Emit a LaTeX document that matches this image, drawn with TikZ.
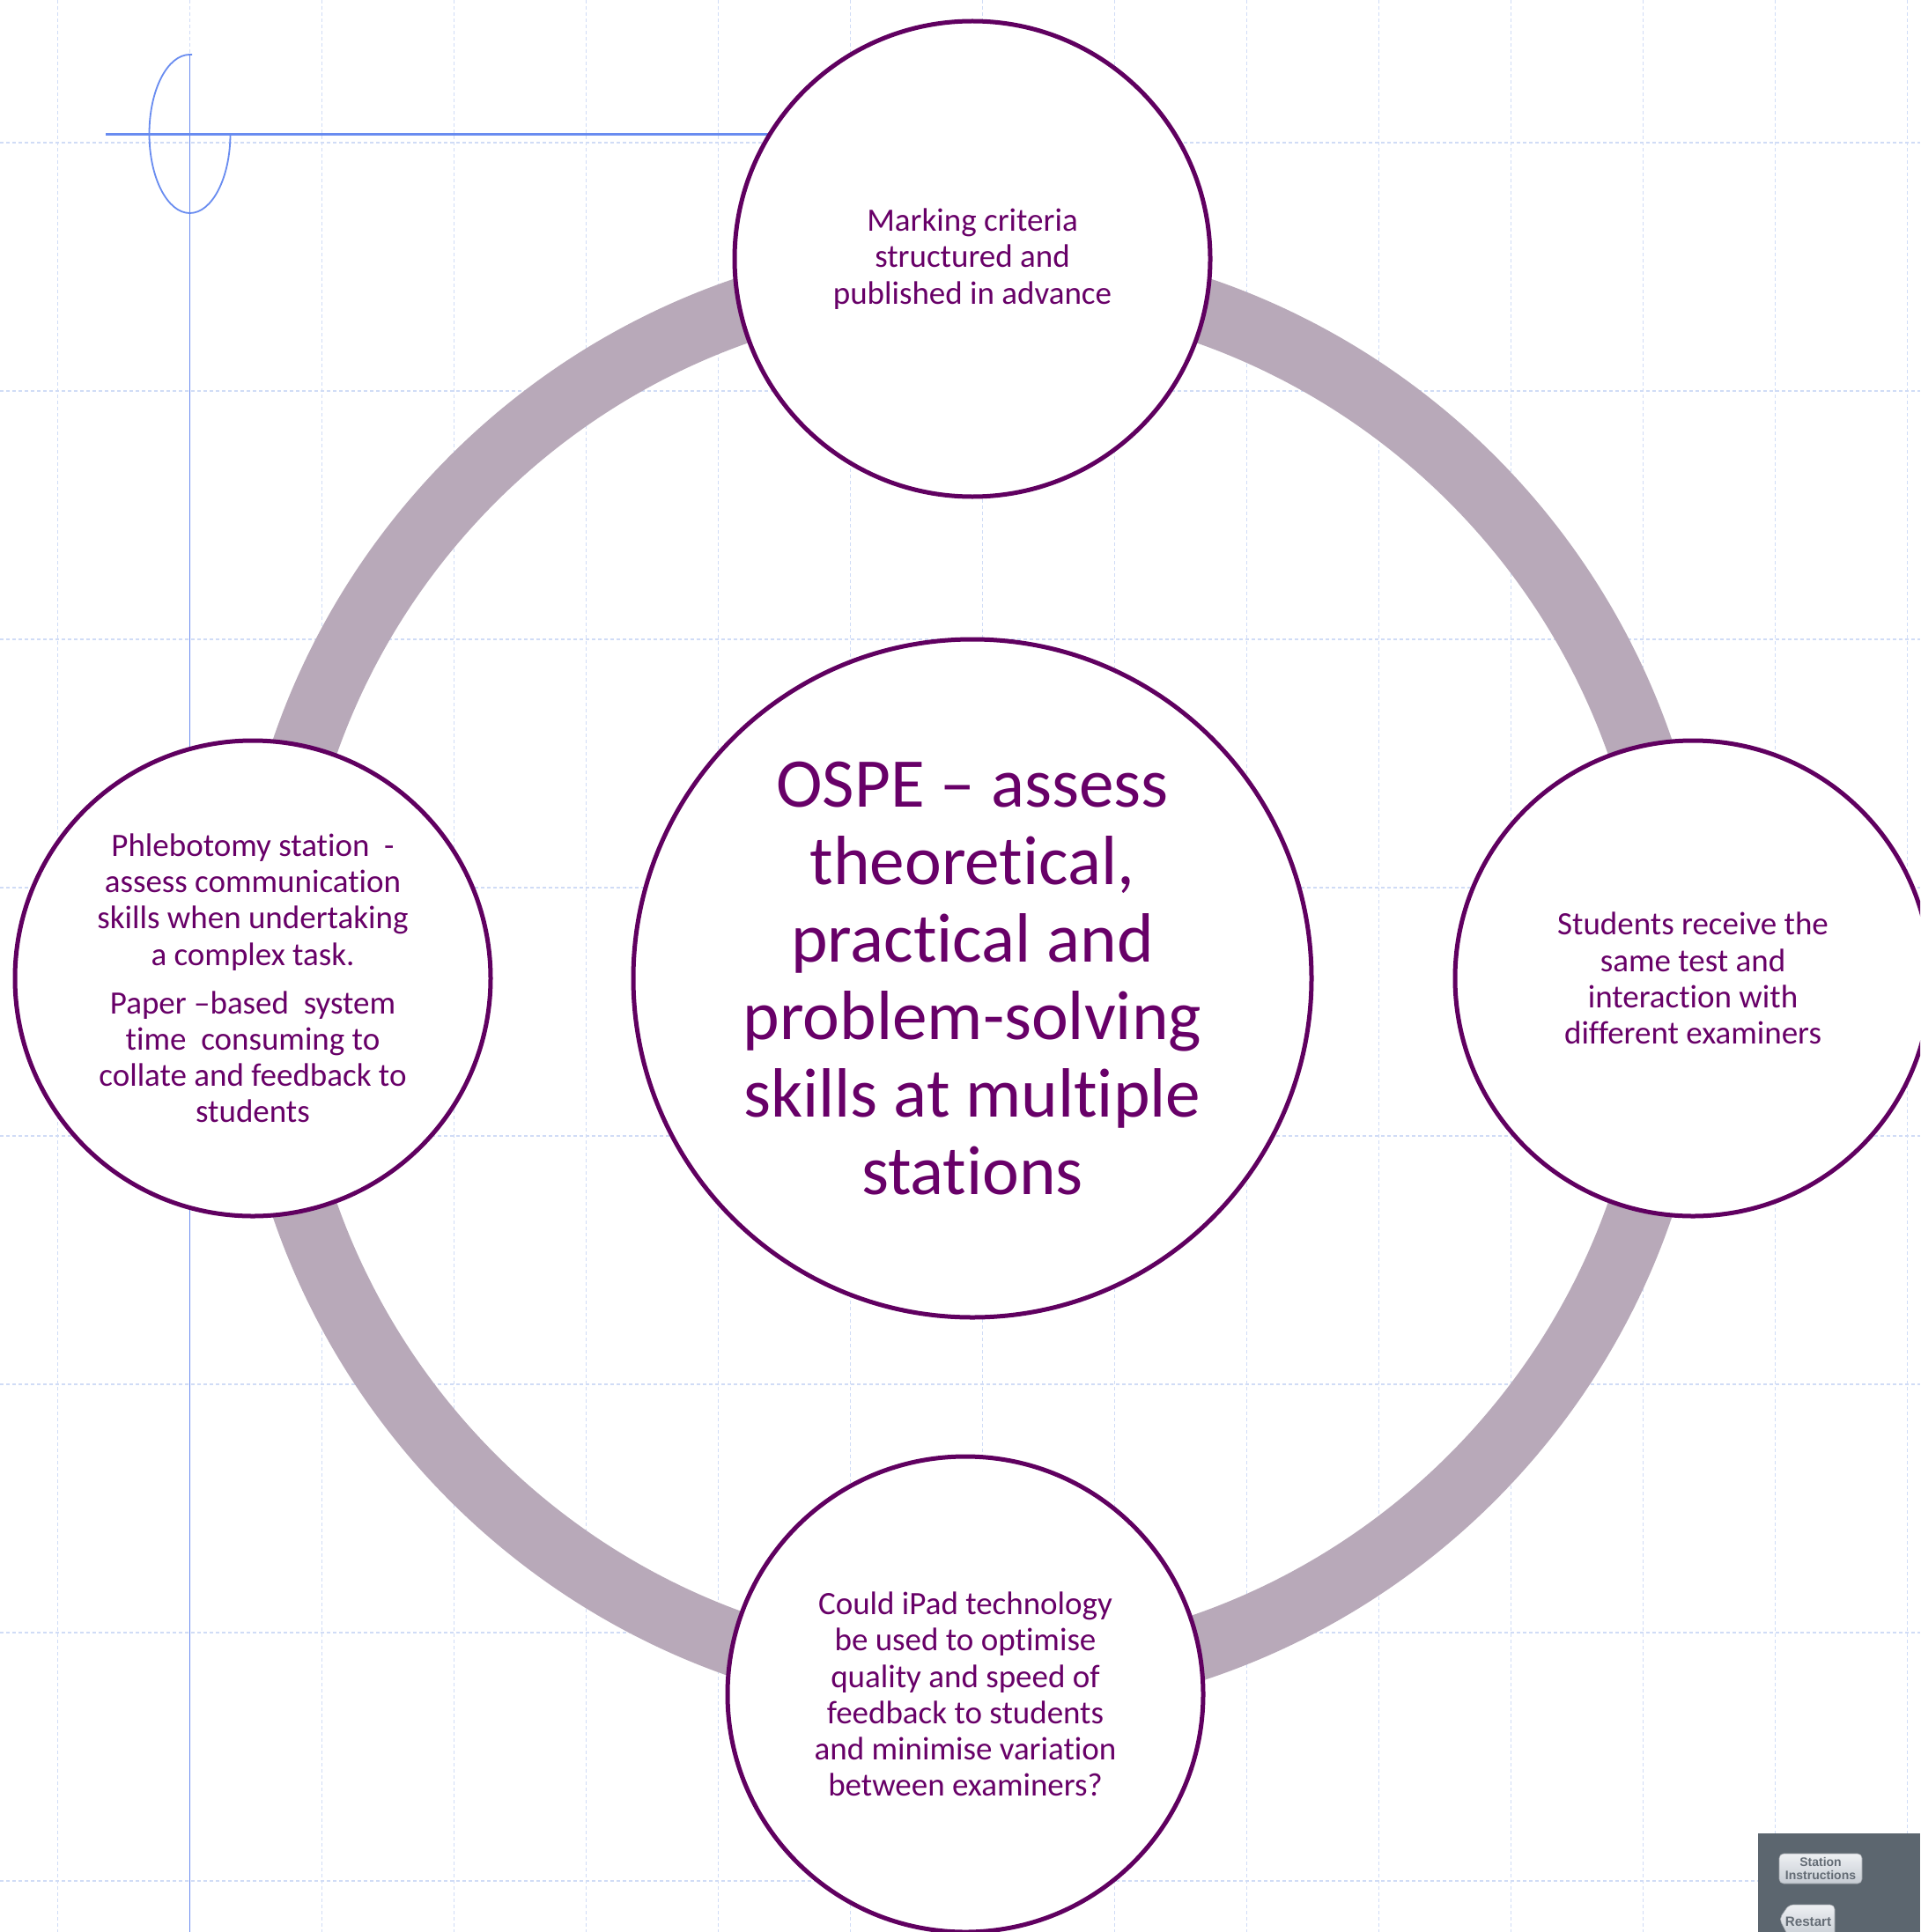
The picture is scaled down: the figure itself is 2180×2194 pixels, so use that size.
\documentclass[tikz,border=0pt]{standalone}
\usepackage{fontspec}
\setmainfont[Ligatures={NoCommon,NoContextual,NoRare},Contextuals={NoAlternate},RawFeature={-liga;-clig;-dlig;-hlig;-calt}]{Carlito}
\newfontfamily\btnfont{Liberation Sans}
\definecolor{ospepurple}{RGB}{96,0,96}
\definecolor{ospetext}{RGB}{104,0,104}
\definecolor{ringgrey}{RGB}{184,169,185}
\definecolor{gridblue}{RGB}{208,220,246}
\definecolor{guideblue}{RGB}{105,140,240}
\definecolor{panelgrey}{RGB}{92,102,111}
\definecolor{btntext}{RGB}{100,108,117}
\definecolor{btntop}{RGB}{238,240,243}
\definecolor{btnbottom}{RGB}{198,204,211}
\begin{document}
\begin{tikzpicture}[x=0.5pt,y=-0.5pt,
  gridline/.style={gridblue, line width=0.7pt, dash pattern=on 2pt off 1.5pt},
  guide/.style={guideblue, line width=0.9pt},
  ring/.style={ringgrey, line width=37pt},
  topic/.style={circle, draw=ospepurple, line width=2.5pt, fill=white,
    minimum size=270pt, inner sep=0pt, align=center, text=ospetext,
    font=\fontsize{18.5}{20.6}\selectfont},
  hub/.style={topic, minimum size=385pt, font=\fontsize{39.6}{44}\selectfont},
  button/.style={rounded corners=2.5pt, draw=btnbottom!80!black, line width=0.3pt,
    top color=btntop, bottom color=btnbottom},
  btnlabel/.style={inner sep=0pt, align=center, text=btntext,
    font=\btnfont\bfseries\fontsize{7}{7.3}\selectfont}
]
\useasboundingbox (0,0) rectangle (2180,2194);
\clip (0,0) rectangle (2180,2194);
\fill[white] (0,0) rectangle (2180,2194);
% background grid
\foreach \x in {65.5,215.5,...,2165.5} \draw[gridline] (\x,0) -- (\x,2194);
\foreach \y in {162,444,...,2136} \draw[gridline] (0,\y) -- (2180,\y);
% guide marks
\draw[guide, line width=0.7pt] (215.5,62) -- (215.5,2194);
\draw[guide, line width=1.1pt] (120,152.5) -- (900,152.5);
\draw[guide] (218,62) -- (215.5,62) arc[start angle=90, end angle=360, x radius=23pt, y radius=45pt];
% nodes
\coordinate (hubc) at (1104,1111);
\draw[ring] (hubc) circle (401pt);
\node[hub] (hub) at (hubc) {OSPE -- assess\\theoretical,\\practical and\\problem-solving\\skills at multiple\\stations};
\node[topic] (top) at (1104,294) {Marking criteria\\structured and\\published in advance};
\node[topic] (left) at (287,1111) {Phlebotomy station~~-\\assess communication\\skills when undertaking\\a complex task.\\[7pt]Paper --based~~system\\time~~consuming to\\collate and feedback to\\students};
\node[topic] (right) at (1922,1111) {Students receive the\\same test and\\interaction with\\different examiners};
\node[topic] (bottom) at (1096,1924) {Could iPad technology\\be used to optimise\\quality and speed of\\feedback to students\\and minimise variation\\between examiners?};
% control panel
\fill[panelgrey] (1996,2082) rectangle (2180,2194);
\path[button] (2020,2105) rectangle (2114,2139);
\node[btnlabel] (station) at (2067,2122) {Station\\Instructions};
\path[button] (2020,2179) -- (2031,2163) -- (2083,2163) -- (2083,2200) -- (2031,2200) -- cycle;
\node[btnlabel, font=\btnfont\bfseries\fontsize{7.6}{8}\selectfont] (restart) at (2053,2182) {Restart};
\end{tikzpicture}
\end{document}
